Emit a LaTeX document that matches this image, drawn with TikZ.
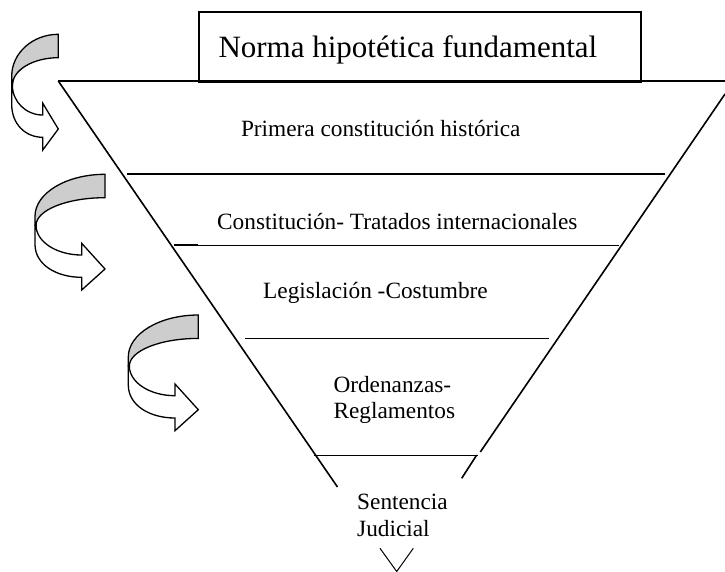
\documentclass[tikz,border=0pt]{standalone}
\usepackage{fontspec}
\setmainfont{Liberation Serif}
\newcommand\curvedarrowshape[3]{%
  \begin{scope}[shift={(#1,#2)}, xscale=#3]
    \filldraw[band, fill=white] (0.015,51) .. controls (0.015,67.4) and (0.307,80.7) .. (0.667,80.7)
      -- (0.667,69) -- (1,94.7) -- (0.667,115.7) -- (0.667,103)
      .. controls (0.299,103) and (0,90) .. (0,70) -- (0,51) -- cycle;
    \filldraw[band, fill=bandgray] (1,0) .. controls (0.448,0) and (0,18.8) .. (0,42)
      -- (0,51) -- (0.015,51) .. controls (0.015,35.8) and (0.456,23.4) .. (1,23.4) -- cycle;
  \end{scope}}
\definecolor{bandgray}{RGB}{205,205,205}
\begin{document}
\begin{tikzpicture}[x=1pt,y=-1pt, line join=miter,
  lbl/.style={anchor=base west, inner sep=0pt, font=\fontsize{23.3}{26}\selectfont},
  ttl/.style={anchor=base west, inner sep=0pt, font=\fontsize{31}{36}\selectfont},
  edge/.style={line width=1.6pt},
  thinedge/.style={line width=1pt},
  band/.style={line width=1.3pt, draw=black}]
\useasboundingbox (0,0) rectangle (725,571);

% top box and title
\node[draw, edge, minimum width=442pt, minimum height=70pt, inner sep=0pt, anchor=north west] (box) at (198,11) {};
\node[ttl] (title) at (218.3,57) {Norma hipotética fundamental};

% triangle outline
\coordinate (tl) at (58.3,81);
\coordinate (tr) at (725,81);
\coordinate (lb) at (337.5,487);
\coordinate (rt) at (725,94);
\coordinate (rb1) at (480.3,452);
\coordinate (rb2a) at (476.7,455);
\coordinate (rb2b) at (461.7,478.3);
\draw[edge] (tl) -- (tr);
\draw[edge] (tl) -- (lb);
\draw[edge] (rt) -- (rb1);
\draw[edge] (rb2a) -- (rb2b);

% level lines
\coordinate (h1a) at (127.3,174); \coordinate (h1b) at (665,174);
\coordinate (h2a) at (174.3,245); \coordinate (h2m) at (197.7,245); \coordinate (h2b) at (619,245);
\coordinate (h3a) at (245,338.3); \coordinate (h3b) at (549.3,338.3);
\coordinate (h4a) at (314,455); \coordinate (h4b) at (478.3,455);
\draw[edge] (h1a) -- (h1b);
\draw[edge] (h2a) -- (h2m);
\draw[thinedge] (h2m) -- (h2b);
\draw[edge] (h3a) -- (h3b);
\draw[thinedge] (h4a) -- (h4b);

% bottom V
\coordinate (v1) at (380,548.3); \coordinate (v2) at (396.7,571.5); \coordinate (v3) at (413.3,548.3);
\draw[thinedge] (v1) -- (v2) -- (v3);

% labels
\node[lbl] (l1) at (240.8,136) {Primera constitución histórica};
\node[lbl] (l2) at (217,229) {Constitución- Tratados internacionales};
\node[lbl] (l3) at (263,298.3) {Legislación -Costumbre};
\node[lbl] (l4a) at (333.3,392.3) {Ordenanzas-};
\node[lbl] (l4b) at (333.3,418.3) {Reglamentos};
\node[lbl] (l5a) at (357,509.3) {Sentencia};
\node[lbl] (l5b) at (357,536.7) {Judicial};

% curved arrows
\curvedarrowshape{11.7}{34.3}{46.6}
\curvedarrowshape{35}{174.3}{70}
\curvedarrowshape{128.3}{315}{70}
\end{tikzpicture}
\end{document}
